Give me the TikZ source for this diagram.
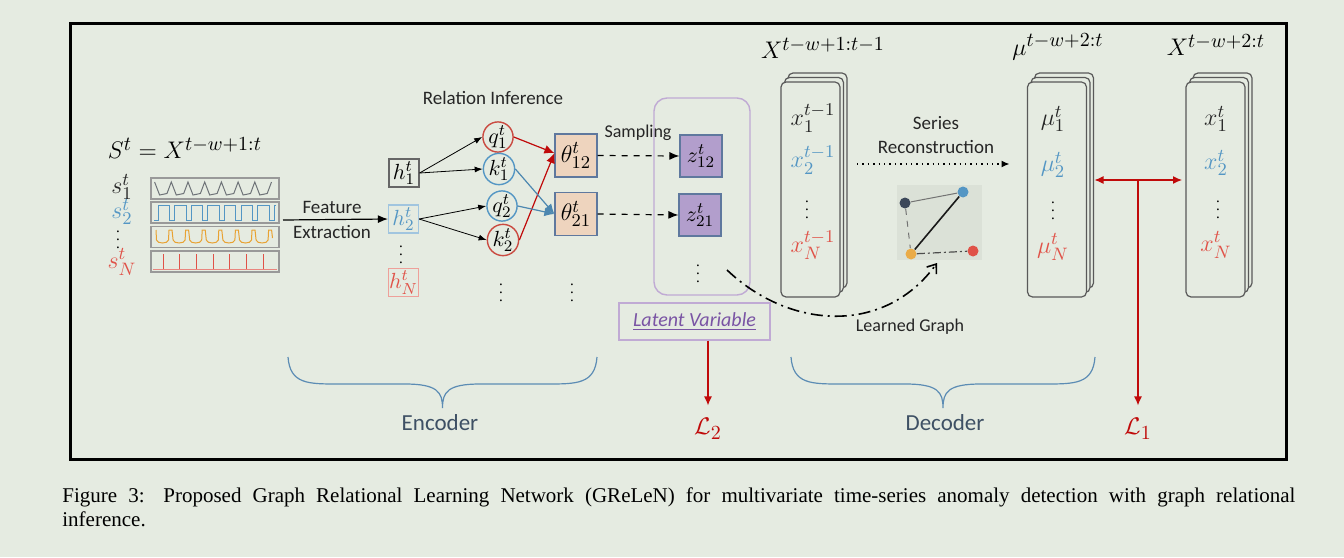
\documentclass[tikz,border=0pt]{standalone}
\usepackage{fontspec}
\setmainfont{Liberation Serif}
\newfontfamily\diagfont{Carlito}
\usetikzlibrary{arrows.meta,calc,positioning}
\DeclareMathSizes{13}{13}{9.8}{7.4}
\DeclareMathSizes{12.5}{12.5}{9.4}{7}
\DeclareMathSizes{12}{12}{9}{6.8}
\DeclareMathSizes{11}{11}{8.3}{6.2}
\DeclareMathSizes{10.5}{10.5}{7.9}{6}

\definecolor{bgcol}{RGB}{229,235,225}
\definecolor{sgrey}{RGB}{110,115,120}
\definecolor{sblue}{RGB}{84,150,196}
\definecolor{sred}{RGB}{224,82,72}
\definecolor{sorange}{RGB}{232,162,50}
\definecolor{gdark}{RGB}{60,72,90}
\definecolor{lossred}{RGB}{192,10,10}
\definecolor{thetafill}{RGB}{238,212,190}
\definecolor{boxedge}{RGB}{95,120,158}
\definecolor{zfill}{RGB}{178,158,204}
\definecolor{latentedge}{RGB}{192,170,212}
\definecolor{latenttext}{RGB}{122,84,164}
\definecolor{bracecol}{RGB}{92,140,180}
\definecolor{slate}{RGB}{62,80,100}
\definecolor{insetfill}{RGB}{219,225,215}

\tikzset{
  lbl/.style={font=\diagfont\fontsize{9.5}{12}\selectfont, text=black!85},
  smalllbl/.style={font=\diagfont\fontsize{9}{11}\selectfont, text=black!85},
  partlbl/.style={font=\diagfont\fontsize{11.5}{13}\selectfont, text=slate},
  bigmath/.style={font=\fontsize{13}{16}\selectfont},
  cardmath/.style={font=\fontsize{12.5}{14}\selectfont},
  lossmath/.style={font=\fontsize{13}{15}\selectfont, text=lossred},
  vdot/.style={font=\fontsize{7.5}{9}\selectfont, inner sep=0pt},
  sigbox/.style={draw=black!40, line width=0.6pt, minimum width=64pt, minimum height=10.5pt, inner sep=0pt},
  wave/.style={line width=0.5pt},
  hbox/.style={draw=#1, line width=0.6pt, minimum width=15pt, minimum height=14pt, inner sep=0pt, font=\fontsize{11}{12}\selectfont},
  qk/.style={circle, draw=#1, line width=0.7pt, minimum size=15pt, inner sep=0pt, font=\fontsize{10.5}{11}\selectfont},
  thetabox/.style={draw=boxedge, fill=thetafill, line width=0.6pt, minimum width=21pt, minimum height=21.5pt, inner sep=0pt, font=\fontsize{12}{13}\selectfont},
  zbox/.style={draw=boxedge, fill=zfill, line width=0.6pt, minimum width=21pt, minimum height=21pt, inner sep=0pt, font=\fontsize{11}{12}\selectfont},
  cardline/.style={draw=black!65, fill=bgcol, rounded corners=2.5pt, line width=0.6pt},
  gnode/.style={circle, fill=#1, minimum size=5.5pt, inner sep=0pt},
  thinarrow/.style={-{Latex[length=4pt,width=3pt]}, line width=0.4pt},
  colarrow/.style={-{Latex[length=5pt,width=4.5pt]}, line width=0.6pt, draw=#1},
  lossline/.style={draw=lossred, line width=0.6pt},
  brace/.style={draw=bracecol, line width=0.6pt},
  learned/.style={line width=0.8pt, dash pattern=on 6pt off 2.5pt on 1pt off 2.5pt, -{Straight Barb[length=4pt,width=6pt]}}
}

% three stacked cards round the centre #2, named #1
\newcommand{\cardstack}[2]{%
  \coordinate (#1) at (#2);
  \draw[cardline] ($(#1)+(-22.5,-116.5)$) rectangle ++(59,215);
  \draw[cardline] ($(#1)+(-26,-112)$) rectangle ++(59,215);
  \draw[cardline] ($(#1)+(-29.5,-107.5)$) rectangle ++(59,215);
}
% curly brace below a block, from x=#1 to x=#2
\newcommand{\curlybrace}[2]{%
  \pgfmathsetmacro{\bmid}{(#1+#2)/2}
  \draw[brace] (#1,357) .. controls (#1+2,384) and (#1+20,384) .. (#1+50,384)
    -- (\bmid-38,384) .. controls (\bmid-5,384) and (\bmid,392) .. (\bmid,408)
    .. controls (\bmid,392) and (\bmid+5,384) .. (\bmid+38,384)
    -- (#2-50,384) .. controls (#2-20,384) and (#2-2,384) .. (#2,357);
}

\begin{document}
\begin{tikzpicture}[x=0.5pt,y=-0.5pt,font=\diagfont]
\useasboundingbox[fill=bgcol] (0,0) rectangle (1344,557);
\draw[line width=1.5pt] (70,23) rectangle (1286,459);

% input window
\node[bigmath] (seq) at (185,148) {$S^t = X^{t-w+1:t}$};
\node[sigbox] (sig1) at (215,188.5) {};
\node[sigbox] (sig2) at (215,212.5) {};
\node[sigbox] (sig3) at (215,237) {};
\node[sigbox] (sig4) at (215,261.5) {};
\node[cardmath,text=black!85] (s1) at (122,187) {$s_1^t$};
\node[cardmath,text=sblue] (s2) at (122,212) {$s_2^t$};
\node[vdot] (sdots) at (118,234) {$\vdots$};
\node[cardmath,text=sred] (sN) at (122,262) {$s_N^t$};
\draw[wave,sgrey] (154.6,182) \foreach \i in {0,...,6}{ -- ({159.6+16.7*\i},195) -- ({167+16.7*\i},193.5) -- ({171.3+16.7*\i},182) };
\draw[wave,sblue] (154,220) \foreach \i in {0,...,6}{ -- ({158+16.6*\i},220) -- ({158+16.6*\i},205.5) -- ({169.5+16.6*\i},205.5) -- ({169.5+16.6*\i},220) } -- (274,220) -- (274,205.5) -- (276,205.5);
\draw[wave,sorange] (156,230) \foreach \i in {0,...,6}{ -- ({156.5+16.6*\i},240) .. controls ({157+16.6*\i},244) and ({168+16.6*\i},244) .. ({168.5+16.6*\i},240) -- ({169+16.6*\i},230) -- ({172+16.6*\i},230) } -- (272.5,238);
\draw[wave,sred!70] (153,269) -- (277,269);
\foreach \i in {0,...,6}
  \draw[wave,sred] ({163+16.7*\i},269) -- ({163+16.7*\i},254);

% feature extraction
\node[hbox=black!60] (h1) at (404,173) {$h_1^t$};
\node[hbox=sblue!55,text=sblue] (h2) at (403.5,219) {$h_2^t$};
\node[vdot] (hdots) at (401,249) {$\vdots$};
\node[hbox=sred!55,text=sred] (hN) at (403.5,282.5) {$h_N^t$};
\coordinate (featstart) at (283,220);
\draw[-{Latex[length=5pt,width=4pt]},line width=0.6pt] (featstart) -- (h2.west);
\node[lbl,align=center,font=\diagfont\fontsize{9.5}{12.5}\selectfont] (featlbl) at (332,220) {Feature\\Extraction};

% relation inference
\node[lbl] (rellbl) at (493,98) {Relation Inference};
\node[qk=sred!90!black] (q1) at (498,137) {$q_1^t$};
\node[qk=sblue] (k1) at (499,169) {$k_1^t$};
\node[qk=sblue] (q2) at (502,206) {$q_2^t$};
\node[qk=sred!90!black] (k2) at (503,240) {$k_2^t$};
\node[vdot] (qkdots) at (501,287) {$\vdots$};
\draw[thinarrow] (h1.east) -- (q1.west);
\draw[thinarrow] (h1.east) -- (k1.west);
\draw[thinarrow] (h2.east) -- (q2.west);
\draw[thinarrow] (h2.east) -- (k2.west);
\node[thetabox] (t12) at (576,155.5) {$\theta_{12}^t$};
\node[thetabox] (t21) at (576,214) {$\theta_{21}^t$};
\node[vdot] (tdots) at (572,287) {$\vdots$};
\coordinate (t12in) at ([yshift=1.2pt]t12.west);
\draw[colarrow=lossred] (q1.east) -- (t12in);
\draw[colarrow=lossred] (k2.east) -- (t12in);
\draw[colarrow=sblue!90!black] (k1.east) -- (t21.west);
\draw[colarrow=sblue!90!black] (q2.east) -- (t21.west);

% sampling
\draw[latentedge,line width=0.7pt,rounded corners=6.5pt] (654,98) rectangle (750,295);
\node[zbox] (z12) at (701,156) {$z_{12}^t$};
\node[zbox] (z21) at (700,215) {$z_{21}^t$};
\node[vdot] (zdots) at (698,268) {$\vdots$};
\draw[dashed,line width=0.6pt,-{Latex[length=5pt,width=4pt]}] (t12.east) -- (z12.west);
\draw[dashed,line width=0.6pt,-{Latex[length=5pt,width=4pt]}] (t21.east) -- (z21.west);
\node[smalllbl] (samplbl) at (638,133) {Sampling};
\node[draw=latentedge,line width=0.6pt,minimum width=75.5pt,minimum height=18.5pt,inner sep=0pt,font=\diagfont\fontsize{10}{12}\selectfont,text=latenttext] (lv) at (694.5,321.5) {\textit{\underline{Latent Variable}}};
\node[lossmath] (L2) at (708,429) {$\mathcal{L}_2$};
\draw[lossline,-{Latex[length=4.5pt,width=4pt]}] (L2.north |- lv.south) -- ([yshift=3pt]L2.north);

% decoder
\node[bigmath] (xlbl) at (823,48) {$X^{t-w+1:t-1}$};
\cardstack{xcard}{810.5,189.5}
\node[cardmath,text=black!85] (x1) at (813,118) {$x_1^{t-1}$};
\node[cardmath,text=sblue] (x2) at (813,160) {$x_2^{t-1}$};
\node[vdot] (xdots) at (807,204) {$\vdots$};
\node[cardmath,text=sred] (xN) at (813,245) {$x_N^{t-1}$};

\node[bigmath] (mulbl) at (1058,47) {$\mu^{t-w+2:t}$};
\cardstack{mucard}{1057,189.5}
\node[cardmath,text=black!85] (mu1) at (1053,119) {$\mu_1^t$};
\node[cardmath,text=sblue] (mu2) at (1053,165) {$\mu_2^t$};
\node[vdot] (mudots) at (1053,205) {$\vdots$};
\node[cardmath,text=sred] (muN) at (1053,247) {$\mu_N^t$};

\node[lbl,align=center] (reclbl) at (936,135) {Series\\Reconstruction};
\draw[dotted,line width=0.7pt,-{Latex[length=4pt,width=3.5pt]}] ($(xcard)+(46.5,-25.5)$) -- ($(mucard)+(-47.5,-25.5)$);

% learned graph
\fill[insetfill] (897,185) rectangle (982,260);
\node[gnode=gdark] (gd) at (905,203) {};
\node[gnode=sblue] (gb) at (963,192) {};
\node[gnode=sorange!90] (go) at (911,254) {};
\node[gnode=sred] (gr) at (973,251) {};
\draw[black!55,line width=0.5pt] (gd) -- (gb);
\draw[black!55,line width=0.5pt,dashed] (gd) -- (go);
\draw[black!90,line width=0.8pt] (go) -- (gb);
\draw[black!70,line width=0.6pt,dash pattern=on 4pt off 1.5pt on 1pt off 1.5pt] (go) -- (gr);
\coordinate (lgstart) at (727,270);
\coordinate (lgend) at (937,263);
\draw[learned] (lgstart) .. controls (790,330) and (885,335) .. (lgend);
\node[smalllbl] (lglbl) at (910,327) {Learned Graph};

\node[bigmath] (xtlbl) at (1216,45) {$X^{t-w+2:t}$};
\cardstack{xtcard}{1215.5,189.5}
\node[cardmath,text=black!85] (xt1) at (1216,119) {$x_1^t$};
\node[cardmath,text=sblue] (xt2) at (1216,163) {$x_2^t$};
\node[vdot] (xtdots) at (1218,204) {$\vdots$};
\node[cardmath,text=sred] (xtN) at (1216,245) {$x_N^t$};

% losses
\coordinate (lossmid) at (1138,180);
\draw[lossline,{Latex[length=4.5pt,width=4pt]}-{Latex[length=4.5pt,width=4pt]}] ($(mucard)+(37.5,-9.5)$) -- ($(xtcard)+(-33.5,-9.5)$);
\node[lossmath] (L1) at (1138,429) {$\mathcal{L}_1$};
\draw[lossline,-{Latex[length=4.5pt,width=4pt]}] (lossmid) -- ([yshift=3pt]L1.north);

% encoder / decoder braces
\curlybrace{288}{597}
\node[partlbl] (enclbl) at (440,423) {Encoder};
\curlybrace{791}{1095}
\node[partlbl] (declbl) at (945,423) {Decoder};

% caption
\node[anchor=north west,inner sep=0pt,text width=616.5pt,align=justify,font=\rmfamily\fontsize{10.5}{12}\selectfont] (caption) at (62,487) {Figure 3: Proposed Graph Relational Learning Network (GReLeN) for multivariate time-series anomaly detection with graph relational\linebreak inference.};
\end{tikzpicture}
\end{document}
